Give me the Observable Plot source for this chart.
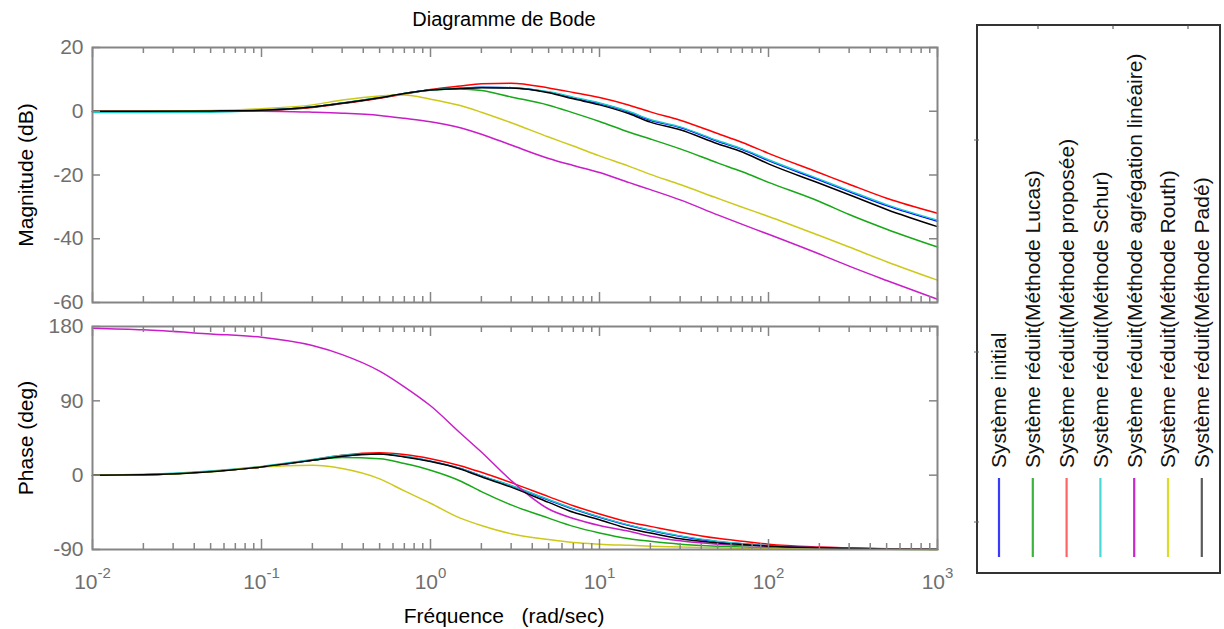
<!DOCTYPE html>
<html>
<head>
<meta charset="utf-8">
<script src="https://cdn.jsdelivr.net/npm/d3@7"></script>
<script src="https://cdn.jsdelivr.net/npm/@observablehq/plot@0.6"></script>
<style>
  body { margin: 0; background: #fff; font-family: "Liberation Sans", Arial, sans-serif; }
  #wrap { position: relative; width: 1224px; height: 629px; overflow: hidden; background: #fff; }
  #title { position: absolute; left: 0; width: 1008px; top: 9px; text-align: center; font-size: 20px; line-height: 20px; color: #000; }
  #mag, #phase, #legend { position: absolute; left: 0; }
  #mag { top: 0; }
  #phase { top: 310px; }
  #legend { top: 0; }
</style>
</head>
<body>
<div id="wrap">
  <div id="title">Diagramme de Bode</div>
  <div id="mag"></div>
  <div id="phase"></div>
  <div id="legend"></div>
</div>
<script>
// ---- data ----
const FREQ = [0.01, 0.02, 0.05, 0.1, 0.2, 0.3, 0.5, 0.7, 1, 1.5, 2, 3, 5, 7, 10, 15, 20, 30, 50, 70, 100, 200, 300, 500, 1000];

const SERIES = [
  "Système initial",
  "Système réduit(Méthode Lucas)",
  "Système réduit(Méthode proposée)",
  "Système réduit(Méthode Schur)",
  "Système réduit(Méthode agrégation linéaire)",
  "Système réduit(Méthode Routh)",
  "Système réduit(Méthode Padé)"
];
const COLORS = ["#0000ff", "#17a817", "#ff0000", "#1ccaca", "#c81ec8", "#cdc91a", "#000000"];
const LEGEND_COLORS = ["#3a3aff", "#3cb43c", "#ff6464", "#48d8d8", "#c828c8", "#dcdc28", "#5a5a5a"];

// magnitude (dB)
const magInitial  = [0, 0, 0.1, 0.3, 1.3, 2.5, 4.2, 5.6, 6.7, 7.2, 7.5, 7.4, 6.0, 4.2, 2.4, -0.3, -2.8, -5.1, -9.4, -12.0, -15.5, -21.6, -25.2, -29.6, -34.5];
const magLucas    = [0, 0, 0.1, 0.3, 1.3, 2.6, 4.3, 5.6, 6.6, 7.0, 6.5, 4.5, 1.9, -0.5, -3.2, -6.6, -8.7, -11.8, -16.2, -19.0, -22.3, -28.3, -32.4, -37.0, -42.6];
const magProposee = [0, 0, 0.1, 0.3, 1.2, 2.4, 4.1, 5.4, 6.8, 7.9, 8.6, 8.8, 7.3, 5.9, 4.3, 1.9, -0.2, -2.8, -7.0, -9.8, -13.2, -19.3, -22.9, -27.3, -32.0];
const magSchur    = [-0.4, -0.4, -0.3, 0.3, 1.4, 2.6, 4.3, 5.6, 6.7, 7.2, 7.5, 7.4, 6.1, 4.4, 2.6, -0.1, -2.6, -4.9, -9.2, -11.8, -15.2, -21.3, -24.9, -29.3, -34.2];
const magAgreg    = [0, 0, 0, 0, -0.3, -0.6, -1.3, -2.2, -3.3, -5.2, -7.2, -10.6, -14.8, -17.0, -19.2, -22.4, -24.6, -27.8, -32.5, -35.5, -38.6, -44.8, -48.6, -53.1, -59.0];
const magRouth    = [0, 0, 0.2, 0.8, 2.0, 3.5, 4.8, 5.1, 3.8, 1.8, -0.3, -3.6, -8.1, -10.9, -14.0, -17.3, -19.8, -23.0, -27.3, -30.1, -33.0, -39.0, -42.6, -47.2, -53.0];
const magPade     = [0, 0, 0.1, 0.3, 1.3, 2.5, 4.2, 5.6, 6.7, 7.1, 7.4, 7.3, 5.8, 3.9, 2.0, -0.8, -3.4, -5.8, -10.2, -12.8, -16.5, -22.6, -26.2, -30.8, -36.2];

// phase (deg)
const phInitial  = [0, 0.5, 4.5, 10, 18, 23, 25.5, 22.5, 17, 8, -1, -13, -30, -41, -51, -61, -67, -74, -80.5, -83, -85.5, -88, -88.8, -89.4, -89.8];
const phLucas    = [0, 0.5, 4.5, 10, 18, 21.5, 20, 14, 6, -7, -20, -36, -52, -62, -70, -77, -80, -83.5, -86, -87, -88, -89, -89.4, -89.7, -89.9];
const phProposee = [0, 0.5, 4.5, 10, 18.5, 24, 27, 25, 20, 11.5, 3.5, -9, -26, -37, -47, -57, -62, -69, -76.5, -80, -83.5, -87, -88.3, -89.2, -89.8];
const phSchur    = [0, 1, 5, 10.5, 19, 24, 26, 23, 17, 8, -1, -12.5, -29.5, -40.5, -50.5, -60.5, -66.5, -73.5, -80, -83, -85.5, -88, -88.8, -89.4, -89.8];
const phAgreg    = [178, 176, 171, 167, 157, 146, 126, 107, 84, 51, 28, -6.5, -41, -52.5, -61, -68, -74, -79.5, -83.5, -85, -86, -87.5, -88, -89, -89.6];
const phRouth    = [0, 0.5, 4, 10, 12, 8, -4.5, -19, -34, -52, -61, -71, -78, -81.5, -83.5, -85, -86, -87, -88, -88.5, -89, -89.5, -89.7, -89.8, -89.9];
const phPade     = [0, 0.5, 4, 10, 18, 23, 25.5, 22, 16.5, 7.5, -2, -14.5, -33, -45, -54, -65, -70, -77, -82, -84, -86, -88, -88.8, -89.3, -89.8];

const MAG = [magInitial, magLucas, magProposee, magSchur, magAgreg, magRouth, magPade];
const PHASE = [phInitial, phLucas, phProposee, phSchur, phAgreg, phRouth, phPade];

const MAG_TICKS = [20, 0, -20, -40, -60];
const PHASE_TICKS = [180, 90, 0, -90];
const X_TICKS = [0.01, 0.1, 1, 10, 100, 1000];

// ---- helpers ----
function rows(table) {
  const out = [];
  table.forEach((vals, i) => vals.forEach((v, j) => out.push({w: FREQ[j], v, s: SERIES[i]})));
  return out;
}
const minorTicks = [];
for (let d = -2; d <= 2; d++) for (let k = 2; k <= 9; k++) minorTicks.push(k * Math.pow(10, d));

const W = 960, ML = 92, MR = 23;
const IW = W - ML - MR;
const FRAME = "#858585";
const TICKCOL = "#6f6f6f";
const FONT = "Liberation Sans, Arial, sans-serif";

function xTickMarks(ih) {
  return [
    Plot.tickX(X_TICKS, {x: d => d, insetBottom: ih - 10, stroke: FRAME, strokeWidth: 1.5}),
    Plot.tickX(X_TICKS, {x: d => d, insetTop: ih - 10, stroke: FRAME, strokeWidth: 1.5}),
    Plot.tickX(minorTicks, {x: d => d, insetBottom: ih - 6, stroke: FRAME, strokeWidth: 1.5}),
    Plot.tickX(minorTicks, {x: d => d, insetTop: ih - 6, stroke: FRAME, strokeWidth: 1.5})
  ];
}
function yTickMarks(ticks) {
  return [
    Plot.tickY(ticks, {y: d => d, insetRight: IW - 8, stroke: FRAME, strokeWidth: 1.5}),
    Plot.tickY(ticks, {y: d => d, insetLeft: IW - 8, stroke: FRAME, strokeWidth: 1.5})
  ];
}
const colorScale = {domain: SERIES, range: COLORS};

// ---- magnitude panel ----
const magH = 320, magMT = 47, magMB = 18;
const magIH = magH - magMT - magMB;
const magPlot = Plot.plot({
  width: W, height: magH,
  marginLeft: ML, marginRight: MR, marginTop: magMT, marginBottom: magMB,
  style: {fontFamily: FONT, fontSize: "21px", background: "transparent", overflow: "visible"},
  x: {type: "log", domain: [0.01, 1000], axis: null},
  y: {domain: [-60, 20], axis: null},
  color: colorScale,
  marks: [
    Plot.line(rows(MAG), {x: "w", y: "v", z: "s", stroke: "s", strokeWidth: 1.5, curve: "monotone-x"}),
    ...xTickMarks(magIH),
    ...yTickMarks(MAG_TICKS),
    Plot.frame({stroke: FRAME, strokeWidth: 2}),
    Plot.axisY({ticks: MAG_TICKS, tickSize: 0, tickPadding: 9, color: TICKCOL, fontSize: 21, label: null, tickFormat: d => String(d)}),
    Plot.text(["Magnitude (dB)"], {frameAnchor: "left", dx: -66, rotate: -90, textAnchor: "middle", lineAnchor: "middle", fontSize: 21, fill: "#000"})
  ]
});
document.getElementById("mag").appendChild(magPlot);

// ---- phase panel ----
const phH = 319, phMT = 16, phMB = 80;
const phIH = phH - phMT - phMB;
const phPlot = Plot.plot({
  width: W, height: phH,
  marginLeft: ML, marginRight: MR, marginTop: phMT, marginBottom: phMB,
  style: {fontFamily: FONT, fontSize: "21px", background: "transparent", overflow: "visible"},
  x: {type: "log", domain: [0.01, 1000], axis: null},
  y: {domain: [-90, 180], axis: null},
  color: colorScale,
  marks: [
    Plot.line(rows(PHASE), {x: "w", y: "v", z: "s", stroke: "s", strokeWidth: 1.5, curve: "monotone-x"}),
    ...xTickMarks(phIH),
    ...yTickMarks(PHASE_TICKS),
    Plot.frame({stroke: FRAME, strokeWidth: 2}),
    Plot.axisY({ticks: PHASE_TICKS, tickSize: 0, tickPadding: 9, color: TICKCOL, fontSize: 21, label: null, tickFormat: d => String(d)}),
    Plot.axisX({ticks: X_TICKS, tickSize: 0, tickPadding: 25, color: TICKCOL, fontSize: 21, label: null,
      tickFormat: d => "10^" + Math.round(Math.log10(d))}),
    Plot.text(["Phase (deg)"], {frameAnchor: "left", dx: -66, rotate: -90, textAnchor: "middle", lineAnchor: "middle", fontSize: 21, fill: "#000"}),
    Plot.text(["Fréquence\u00a0\u00a0\u00a0(rad/sec)"], {frameAnchor: "bottom", dx: -11, dy: 67, textAnchor: "middle", lineAnchor: "middle", fontSize: 21, fill: "#000"})
  ]
});
document.getElementById("phase").appendChild(phPlot);

// superscript exponents on x tick labels
const NS = "http://www.w3.org/2000/svg";
phPlot.querySelectorAll('[aria-label="x-axis tick label"] text').forEach(t => {
  const parts = t.textContent.split("^");
  if (parts.length !== 2) return;
  t.textContent = "";
  const a = document.createElementNS(NS, "tspan");
  a.textContent = parts[0];
  const b = document.createElementNS(NS, "tspan");
  b.setAttribute("dy", "-11");
  b.setAttribute("font-size", "15");
  b.textContent = parts[1];
  t.appendChild(a); t.appendChild(b);
});

// ---- legend (rotated, as in the reference) ----
const LX0 = 977, LY0 = 25, LX1 = 1220, LY1 = 573;
const svg = d3.select("#legend").append("svg")
  .attr("width", 1224).attr("height", 629)
  .style("font-family", FONT);
svg.append("rect")
  .attr("x", LX0).attr("y", LY0).attr("width", LX1 - LX0).attr("height", LY1 - LY0)
  .attr("fill", "#fff").attr("stroke", "#333").attr("stroke-width", 2);
// small axis ticks on the legend box edges
[1038, 1113, 1188].forEach(x => svg.append("line").attr("x1", x).attr("x2", x).attr("y1", LY0).attr("y2", LY0 + 4).attr("stroke", "#444"));
[140, 352, 522].forEach(y => svg.append("line").attr("x1", LX0 - 3).attr("x2", LX0 + 2).attr("y1", y).attr("y2", y).attr("stroke", "#666"));
SERIES.forEach((name, i) => {
  const x = 999 + 33.8 * i;
  svg.append("line")
    .attr("x1", x).attr("x2", x).attr("y1", 478).attr("y2", 557)
    .attr("stroke", LEGEND_COLORS[i]).attr("stroke-width", 2.2);
  svg.append("text")
    .attr("transform", `translate(${x},468) rotate(-90)`)
    .attr("dy", "0.35em")
    .attr("font-size", 21)
    .attr("fill", "#111")
    .text(name);
});
</script>
</body>
</html>
